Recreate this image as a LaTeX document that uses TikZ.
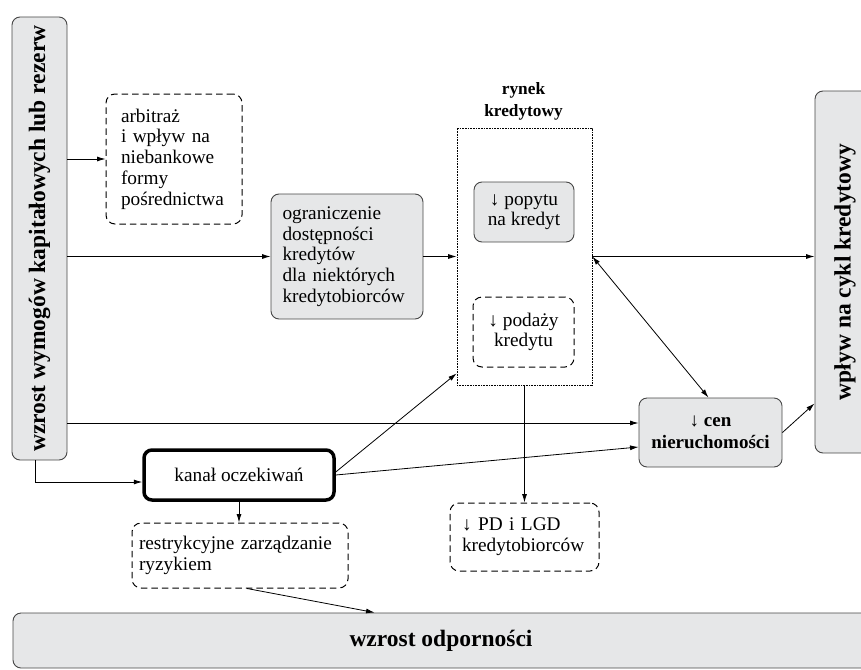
\documentclass[tikz,border=0pt]{standalone}
\usepackage{fontspec}
\setmainfont{Liberation Serif}
\usetikzlibrary{arrows.meta,calc}
\definecolor{boxgray}{RGB}{230,231,232}
\definecolor{boxline}{RGB}{70,70,70}
\newcommand{\txtn}{\fontsize{19.3}{20.7}\selectfont}
\newcommand{\txtbig}{\fontsize{23.5}{26}\selectfont\bfseries}
\newcommand{\txtmid}{\fontsize{19}{22}\selectfont\bfseries}
\newcommand{\txtsm}{\fontsize{17.3}{22}\selectfont\bfseries}
\begin{document}
\begin{tikzpicture}[x=1pt,y=-1pt,
  gbox/.style={draw=boxline, fill=boxgray, line width=0.9pt, rounded corners=8pt, inner sep=0pt, font=\txtn},
  dbox/.style={draw=black, line width=1pt, dash pattern=on 6.5pt off 4pt, rounded corners=9pt, inner sep=0pt, font=\txtn},
  dotbox/.style={draw=black, line width=0.7pt, dash pattern=on 0.8pt off 0.8pt, inner sep=0pt},
  thickbox/.style={draw=black, line width=3.5pt, rounded corners=8pt, inner sep=0pt, font=\txtn},
  arr/.style={draw=black, line width=0.8pt, -{Latex[length=8.5pt,width=5pt]}},
  darr/.style={draw=black, line width=0.8pt, {Latex[length=8.5pt,width=5pt]}-{Latex[length=8.5pt,width=5pt]}},
  ln/.style={draw=black, line width=0.8pt}]
\useasboundingbox (0,0) rectangle (861,669);
\clip (0,0) rectangle (861,669);

% nodes
\node[gbox, rotate=90, minimum width=443pt, minimum height=55pt, font=\txtbig] (L) at (39.5,238.5) {wzrost wymogów kapitałowych lub rezerw};
\node[dbox, text width=106pt, inner xsep=15pt, minimum height=130pt, align=left] (A) at (174,159) {arbitraż\\i wpływ na\\niebankowe\\formy\\pośrednictwa};
\node[gbox, text width=129pt, inner xsep=11.5pt, minimum height=125pt, align=left] (O) at (347,256.5) {ograniczenie\\dostępności\\kredytów\\dla niektórych\\kredytobiorców};
\node[dotbox, minimum width=135pt, minimum height=257pt] (R) at (524.5,256.5) {};
\node[font=\txtsm, align=center] (T) at (523.5,101) {rynek\\kredytowy};
\node[gbox, minimum width=100pt, minimum height=60pt, align=center] (P1) at (524,212) {↓ popytu\\na kredyt};
\node[dbox, minimum width=101pt, minimum height=70pt, align=center] (P2) at (523.5,332) {↓ podaży\\kredytu};
\node[gbox, rotate=90, minimum width=362pt, minimum height=60pt, font=\txtbig] (W) at (845,272) {wpływ na cykl kredytowy};
\node[gbox, minimum width=143pt, minimum height=69pt, align=center, font=\txtmid] (C) at (710.5,432.5) {↓ cen\\nieruchomości};
\node[thickbox, minimum width=190pt, minimum height=50pt] (K) at (239,475) {kanał oczekiwań};
\node[dbox, text width=202pt, inner xsep=7pt, minimum height=65pt, align=left] (S) at (240,555.5) {restrykcyjne zarządzanie\\ryzykiem};
\node[dbox, text width=125pt, inner xsep=12pt, minimum height=68pt, align=left] (P) at (524.5,537) {↓ PD i LGD\\kredytobiorców};
\node[gbox, minimum width=856pt, minimum height=55pt, font=\txtbig] (B) at (441,640.5) {wzrost odporności};

% helper coordinates (L and W are rotated: their south side faces right / north side faces left, west faces down)
\coordinate (rm) at (R.east |- O.east);
\coordinate (c1) at ([yshift=9.5pt]C.west);
\coordinate (c2) at ([yshift=-14.5pt]C.west);
\coordinate (w1) at ([yshift=50pt]W.north west);
\coordinate (k1) at ([yshift=-7pt]K.west);
\coordinate (l1) at ([xshift=-4.5pt]L.west);
\coordinate (b1) at ($(B.north west)+(362,0)$);

% connectors
\draw[arr] (L.south |- A.west) -- (A.west);
\draw[arr] (L.south |- O.west) -- (O.west);
\draw[arr] (O.east) -- (R.west |- O.east);
\draw[arr] (rm) -- (W.north |- rm);
\draw[darr] (rm) -- ([xshift=-2pt]C.north);
\draw[arr] (C.east) -- (w1);
\draw[arr] (L.south |- c1) -- (c1);
\draw[arr] (K.east) -- (c2);
\draw[arr] ([yshift=3pt]K.east) -- ([yshift=12pt]R.south west);
\draw[arr] (R.south) -- (P.north);
\draw[arr] (l1) |- (k1);
\draw[arr] (K.south) -- (K.south |- S.north);
\draw[arr] ([xshift=7pt]S.south) -- (b1);
\end{tikzpicture}
\end{document}
